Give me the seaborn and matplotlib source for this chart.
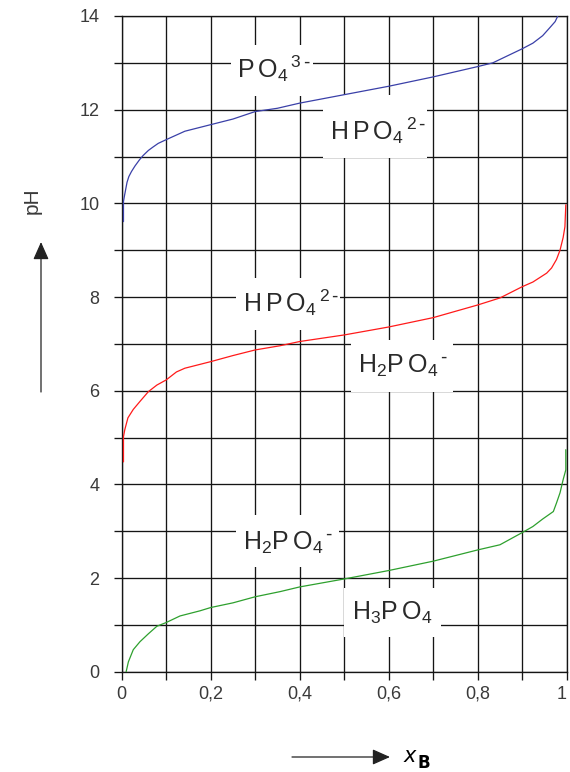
import matplotlib
matplotlib.use("Agg")
import numpy as np
import pandas as pd
import seaborn as sns
import matplotlib.pyplot as plt
from matplotlib.patches import Rectangle

# ---------------- data ----------------
green_x = [0.010, 0.015, 0.026, 0.041, 0.060, 0.079, 0.100, 0.131, 0.176, 0.200,
           0.250, 0.300, 0.356, 0.400, 0.500, 0.600, 0.700, 0.800, 0.850, 0.900,
           0.924, 0.946, 0.970, 0.977, 0.985, 0.992, 0.998, 0.998]
green_ph = [0.00, 0.21, 0.47, 0.64, 0.81, 0.97, 1.05, 1.19, 1.30, 1.37,
            1.47, 1.60, 1.71, 1.81, 1.98, 2.16, 2.36, 2.60, 2.71, 2.97,
            3.10, 3.26, 3.42, 3.60, 3.82, 4.10, 4.31, 4.74]

red_x = [0.004, 0.004, 0.007, 0.014, 0.026, 0.041, 0.060, 0.079, 0.100, 0.123,
         0.142, 0.200, 0.250, 0.300, 0.356, 0.400, 0.500, 0.600, 0.700, 0.800,
         0.850, 0.900, 0.924, 0.955, 0.966, 0.977, 0.985, 0.992, 0.996, 0.998]
red_ph = [4.48, 5.02, 5.17, 5.42, 5.60, 5.77, 5.98, 6.12, 6.23, 6.40,
          6.48, 6.62, 6.75, 6.87, 6.96, 7.05, 7.19, 7.36, 7.56, 7.83,
          7.98, 8.22, 8.32, 8.51, 8.62, 8.80, 9.00, 9.27, 9.50, 9.97]

blue_x = [0.004, 0.004, 0.006, 0.009, 0.012, 0.016, 0.022, 0.030, 0.040, 0.048,
          0.060, 0.070, 0.082, 0.100, 0.142, 0.200, 0.250, 0.300, 0.350, 0.400,
          0.500, 0.600, 0.700, 0.800, 0.834, 0.900, 0.924, 0.946, 0.962, 0.974,
          0.980]
blue_ph = [9.61, 10.04, 10.15, 10.30, 10.45, 10.57, 10.68, 10.80, 10.93, 11.02,
           11.13, 11.20, 11.28, 11.36, 11.54, 11.68, 11.80, 11.96, 12.03, 12.14,
           12.32, 12.50, 12.70, 12.92, 13.00, 13.30, 13.42, 13.58, 13.75, 13.88,
           14.00]

curve_colors = {"green": "#2ea02e", "red": "#ff1a1a", "blue": "#3a40a8"}

x_ticks = [0.0, 0.1, 0.2, 0.3, 0.4, 0.5, 0.6, 0.7, 0.8, 0.9, 1.0]
x_ticklabels = ["0", "", "0,2", "", "0,4", "", "0,6", "", "0,8", "", "1"]
y_ticks = list(range(0, 15))
y_ticklabels = ["0", "", "2", "", "4", "", "6", "", "8", "", "10", "", "12", "", "14"]

species_labels = [r"$\mathregular{P\,O_4{}^{\,3\,\text{-}}}$",
                  r"$\mathregular{H\,P\,O_4{}^{\,2\,\text{-}}}$",
                  r"$\mathregular{H\,P\,O_4{}^{\,2\,\text{-}}}$",
                  r"$\mathregular{H_2P\,O_4{}^{\,\text{-}}}$",
                  r"$\mathregular{H_2P\,O_4{}^{\,\text{-}}}$",
                  r"$\mathregular{H_3P\,O_4}$"]

# label layout: (text x, baseline y, box x0, box x1, box y0, box y1)
label_layout = [
    (0.258, 12.68, 0.245, 0.429, 12.30, 13.39),
    (0.468, 11.36, 0.452, 0.686, 10.97, 12.32),
    (0.272, 7.69, 0.257, 0.490, 7.30, 8.41),
    (0.530, 6.38, 0.515, 0.744, 5.98, 7.09),
    (0.272, 2.60, 0.257, 0.489, 2.24, 3.35),
    (0.517, 1.11, 0.499, 0.717, 0.75, 1.79),
]

# ---------------- figure ----------------
sns.set_theme(style="white")
plt.rcParams["font.family"] = ["Liberation Sans", "DejaVu Sans"]
plt.rcParams["mathtext.fontset"] = "dejavusans"

W, H = 570, 772
fig = plt.figure(figsize=(W / 100, H / 100), dpi=100)
ax = fig.add_axes([121.7 / W, 100.3 / H, 445 / W, 655.7 / H])

df = pd.concat([
    pd.DataFrame({"x": green_x, "pH": green_ph, "curve": "green"}),
    pd.DataFrame({"x": red_x, "pH": red_ph, "curve": "red"}),
    pd.DataFrame({"x": blue_x, "pH": blue_ph, "curve": "blue"}),
], ignore_index=True)

sns.lineplot(data=df, x="x", y="pH", hue="curve", palette=curve_colors,
             estimator=None, sort=False, legend=False, linewidth=0.9, ax=ax, zorder=3)

ax.set_xlim(0, 1)
ax.set_ylim(0, 14)
ax.set_xticks(x_ticks)
ax.set_xticklabels(x_ticklabels)
ax.set_yticks(y_ticks)
ax.set_yticklabels(y_ticklabels)
ax.grid(True, color="#151515", linewidth=0.95)
ax.set_axisbelow(True)
for s in ax.spines.values():
    s.set_color("#151515")
    s.set_linewidth(0.95)
ax.tick_params(axis="both", direction="out", length=6, width=0.95, color="#151515",
               labelcolor="#3a3a3a", labelsize=13, bottom=True, left=True)
ax.tick_params(axis="x", pad=4)
ax.tick_params(axis="y", pad=10)
ax.get_xticklabels()[-1].set_horizontalalignment("right")
ax.set_xlabel("")
ax.set_ylabel("")

for text, (tx, ty, bx0, bx1, by0, by1) in zip(species_labels, label_layout):
    ax.add_patch(Rectangle((bx0, by0), bx1 - bx0, by1 - by0, facecolor="white",
                           edgecolor="none", zorder=2))
    ax.text(tx, ty, text, ha="left", va="baseline", fontsize=18, color="#2a2a2a",
            zorder=4)

# axis arrows and labels (figure pixel coordinates)
ax.annotate("", xy=(41, H - 242), xycoords="figure pixels",
            xytext=(41, H - 392), textcoords="figure pixels",
            arrowprops=dict(arrowstyle="-|>,head_length=0.9,head_width=0.4",
                            color="#222222", lw=0.9, shrinkA=0, shrinkB=0))
fig.text(32 / W, (H - 201) / H, "pH", rotation=90, ha="center", va="center",
         fontsize=15, color="#3a3a3a")

ax.annotate("", xy=(390, H - 757), xycoords="figure pixels",
            xytext=(292, H - 757), textcoords="figure pixels",
            arrowprops=dict(arrowstyle="-|>,head_length=0.9,head_width=0.4",
                            color="#222222", lw=0.9, shrinkA=0, shrinkB=0))
fig.text(404 / W, 10 / H, "x", ha="left", va="baseline", fontsize=15,
         style="italic", color="black", family="DejaVu Sans")
fig.text(418 / W, 4 / H, "B", ha="left", va="baseline", fontsize=12,
         fontweight="bold", color="black", family="DejaVu Sans")

fig.savefig("out.png", dpi=100)
